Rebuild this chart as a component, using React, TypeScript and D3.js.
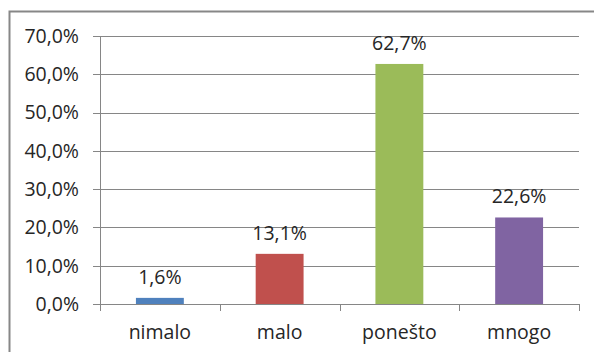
import React from "react";
import * as d3 from "d3";

const categories = ["nimalo", "malo", "ponešto", "mnogo"];
const values = [1.6, 13.1, 62.7, 22.6];
const valueLabels = ["1,6%", "13,1%", "62,7%", "22,6%"];
const colors = ["#4F81BD", "#C0504D", "#9BBB59", "#8064A2"];
const yTicks = [0, 10, 20, 30, 40, 50, 60, 70];
const yTickLabels = ["0,0%", "10,0%", "20,0%", "30,0%", "40,0%", "50,0%", "60,0%", "70,0%"];

const W = 594;
const H = 352;
const left = 100;
const right = 579;
const top = 36;
const bottom = 304;
const font = "'Open Sans', sans-serif";
const textColor = "#262626";
const gridColor = "#868686";

export default function App() {
  const x = d3.scaleBand<string>().domain(categories).range([left, right]).paddingInner(0.6).paddingOuter(0.3);
  const xOuter = d3.scaleBand<string>().domain(categories).range([left, right]);
  const y = d3.scaleLinear().domain([0, 70]).range([bottom, top]);

  return (
    <svg width={W} height={H} style={{ position: "absolute", left: 0, top: 0 }}>
      <rect x={0} y={0} width={W} height={H} fill="#fff" />
      <rect x={9.5} y={11.5} width={W + 20} height={H + 20} fill="none" stroke="#878787" strokeWidth={2} />
      {yTicks.map((t, i) => (
        <g key={t}>
          <line x1={93} x2={right} y1={Math.round(y(t)) + 0.5} y2={Math.round(y(t)) + 0.5} stroke={gridColor} strokeWidth={1} />
          <text x={79} y={y(t)} dy="0.35em" textAnchor="end" fontFamily={font} fontSize={19.5} fill={textColor}>
            {yTickLabels[i]}
          </text>
        </g>
      ))}
      <line x1={left + 0.5} x2={left + 0.5} y1={top} y2={bottom} stroke={gridColor} />
      {categories.map((c) => (
        <line key={c} x1={Math.round((xOuter(c) as number) + xOuter.bandwidth()) + 0.5} x2={Math.round((xOuter(c) as number) + xOuter.bandwidth()) + 0.5} y1={bottom} y2={bottom + 7} stroke={gridColor} />
      ))}
      <line x1={left + 0.5} x2={left + 0.5} y1={bottom} y2={bottom + 7} stroke={gridColor} />
      {categories.map((c, i) => (
        <g key={c}>
          <rect x={x(c)} y={y(values[i])} width={x.bandwidth()} height={bottom - y(values[i])} fill={colors[i]} />
          <text x={(x(c) as number) + x.bandwidth() / 2} y={y(values[i]) - 14} textAnchor="middle" fontFamily={font} fontSize={19.5} fill={textColor}>
            {valueLabels[i]}
          </text>
          <text x={(x(c) as number) + x.bandwidth() / 2} y={339} textAnchor="middle" fontFamily={font} fontSize={19.5} fill={textColor}>
            {c}
          </text>
        </g>
      ))}
    </svg>
  );
}
